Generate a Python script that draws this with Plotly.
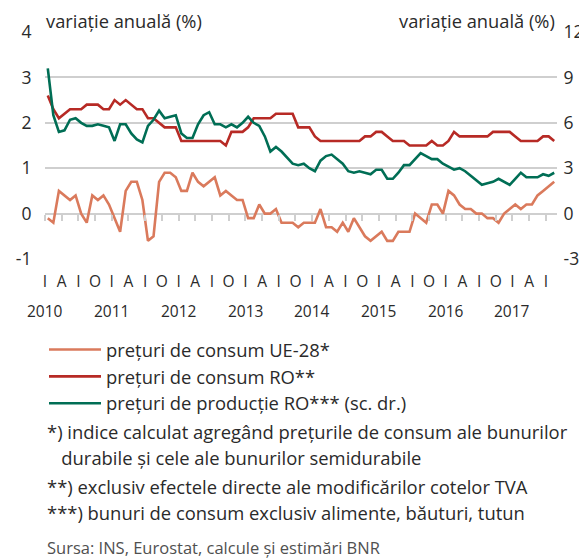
import plotly.graph_objects as go

# ---- data (monthly, Jan 2010 - Aug 2017) ----
months = list(range(92))
ue28 = [-0.1, -0.2, 0.5, 0.4, 0.3, 0.4, 0.0, -0.2, 0.4, 0.3, 0.4, 0.2,
        -0.1, -0.4, 0.5, 0.7, 0.7, 0.3, -0.6, -0.5, 0.7, 0.9, 0.9, 0.8,
        0.5, 0.5, 0.9, 0.7, 0.6, 0.7, 0.8, 0.4, 0.5, 0.4, 0.3, 0.3,
        -0.1, -0.1, 0.2, 0.0, 0.0, 0.1, -0.2, -0.2, -0.2, -0.3, -0.2, -0.2,
        -0.2, 0.1, -0.3, -0.3, -0.4, -0.2, -0.4, -0.1, -0.3, -0.5, -0.6, -0.5,
        -0.4, -0.6, -0.6, -0.4, -0.4, -0.4, 0.0, -0.1, -0.2, 0.2, 0.2, 0.0,
        0.5, 0.4, 0.2, 0.1, 0.1, 0.0, 0.0, -0.1, -0.1, -0.2, 0.0, 0.1,
        0.2, 0.1, 0.2, 0.2, 0.4, 0.5, 0.6, 0.7]
ro_cons = [2.6, 2.3, 2.1, 2.2, 2.3, 2.3, 2.3, 2.4, 2.4, 2.4, 2.3, 2.3,
           2.5, 2.4, 2.5, 2.4, 2.3, 2.3, 2.1, 2.1, 2.0, 1.9, 1.9, 1.9,
           1.6, 1.6, 1.6, 1.6, 1.6, 1.6, 1.6, 1.6, 1.5, 1.8, 1.8, 1.8,
           1.9, 2.1, 2.1, 2.1, 2.1, 2.2, 2.2, 2.2, 2.2, 1.9, 1.9, 1.9,
           1.7, 1.6, 1.6, 1.6, 1.6, 1.6, 1.6, 1.6, 1.6, 1.7, 1.7, 1.8,
           1.8, 1.7, 1.6, 1.6, 1.6, 1.5, 1.5, 1.5, 1.5, 1.6, 1.5, 1.5,
           1.6, 1.8, 1.7, 1.7, 1.7, 1.7, 1.7, 1.7, 1.8, 1.8, 1.8, 1.8,
           1.7, 1.6, 1.6, 1.6, 1.6, 1.7, 1.7, 1.6]
ro_prod = [9.6, 6.5, 5.4, 5.5, 6.2, 6.3, 6.0, 5.8, 5.8, 5.9, 5.8, 5.7,
           4.8, 5.9, 5.9, 5.3, 4.9, 4.7, 5.8, 6.2, 6.8, 6.3, 6.4, 6.5,
           5.3, 5.0, 5.0, 5.9, 6.5, 6.7, 5.9, 5.9, 5.7, 5.9, 5.7, 6.0,
           6.4, 6.0, 5.8, 5.1, 4.1, 4.4, 4.1, 3.7, 3.3, 3.2, 3.3, 3.0,
           2.8, 3.5, 3.8, 3.9, 3.6, 3.3, 2.8, 2.7, 2.8, 2.7, 2.6, 2.9,
           2.9, 2.3, 2.3, 2.7, 3.2, 3.2, 3.6, 4.0, 3.8, 3.6, 3.6, 3.3,
           3.1, 2.9, 3.0, 2.8, 2.5, 2.2, 1.9, 2.0, 2.1, 2.3, 2.1, 1.9,
           2.3, 2.7, 2.4, 2.4, 2.4, 2.6, 2.5, 2.7]

quarter_letters = ["I", "A", "I", "O"]
years = ["2010", "2011", "2012", "2013", "2014", "2015", "2016", "2017"]
left_ticks = [-1, 0, 1, 2, 3, 4]
left_tick_text = ["-1", "0", "1", "2", "3", "4"]
right_ticks = [-3, 0, 3, 6, 9, 12]
right_tick_text = ["-3", "0", "3", "6", "9", "12"]
series_names = ["prețuri de consum UE-28*", "prețuri de consum RO**",
                "prețuri de producție RO*** (sc. dr.)"]
footnotes = ["*) indice calculat agregând prețurile de consum ale bunurilor",
             "   durabile și cele ale bunurilor semidurabile",
             "**) exclusiv efectele directe ale modificărilor cotelor TVA",
             "***) bunuri de consum exclusiv alimente, băuturi, tutun"]
source = "Sursa: INS, Eurostat, calcule și estimări BNR"
axis_title = "variație anuală (%)"

# ---- styling ----
FONT = "Open Sans"
C_UE = "#da7a5c"
C_RO = "#b72a25"
C_PR = "#006e55"
GRID = "#cfcfcf"
TXT = "#2a2a2a"

# the page body has an 8px default margin: work in screen pixels, then subtract it
OFF = 8
W, Hfig = 587 - OFF, 559 - OFF
plot_left, plot_right = 45 - OFF, 557 - OFF
plot_top, plot_bot = 32 - OFF, 259.5 - OFF
H = plot_bot - plot_top

tick_pos = [m - 0.5 for m in months if m % 3 == 0 and m <= 90]
tick_txt = [quarter_letters[(int(p + 0.5) // 3) % 4] for p in tick_pos]

fig = go.Figure()
fig.add_trace(go.Scatter(x=months, y=ue28, name=series_names[0], mode="lines",
                         line=dict(color=C_UE, width=2.6), xaxis="x2", yaxis="y"))
fig.add_trace(go.Scatter(x=months, y=ro_cons, name=series_names[1], mode="lines",
                         line=dict(color=C_RO, width=2.6), xaxis="x", yaxis="y"))
fig.add_trace(go.Scatter(x=months, y=ro_prod, name=series_names[2], mode="lines",
                         line=dict(color=C_PR, width=2.6), xaxis="x", yaxis="y2"))


def below(screen_px):
    return (plot_bot - (screen_px - OFF)) / H


annotations = [
    dict(text=axis_title, x=0, xref="paper", y=1, yref="paper", xanchor="left",
         yanchor="middle", yshift=12, xshift=-1, showarrow=False,
         font=dict(size=18.3, color=TXT, family=FONT)),
    dict(text=axis_title, x=1, xref="paper", y=1, yref="paper", xanchor="right",
         yanchor="middle", yshift=12, showarrow=False,
         font=dict(size=18.3, color=TXT, family=FONT)),
]
for k, yr in enumerate(years):
    annotations.append(dict(text=yr, x=k * 12 - 0.5, xref="x", y=below(312), yref="paper",
                            xanchor="center", yanchor="middle", showarrow=False,
                            font=dict(size=15.5, color=TXT, family=FONT)))
foot_y = [432, 458, 488, 514]
for t, yy in zip(footnotes, foot_y):
    annotations.append(dict(text=t.replace("   ", "&nbsp;&nbsp;&nbsp;"), x=0, xref="paper",
                            y=below(yy), yref="paper", xanchor="left", yanchor="middle",
                            showarrow=False, font=dict(size=18.4, color=TXT, family=FONT)))
annotations.append(dict(text=source, x=0, xref="paper", y=below(549), yref="paper",
                        xanchor="left", yanchor="middle", showarrow=False,
                        font=dict(size=16.5, color="#505050", family=FONT)))

fig.update_layout(
    width=W, height=Hfig,
    margin=dict(l=plot_left, r=W - plot_right, t=plot_top, b=Hfig - plot_bot, autoexpand=False),
    paper_bgcolor="white", plot_bgcolor="white",
    font=dict(family=FONT, color=TXT),
    showlegend=True,
    legend=dict(xref="container", yref="container", x=(44 - OFF) / W, y=1 - (331 - OFF) / Hfig,
                xanchor="left", yanchor="top", itemwidth=52,
                font=dict(size=18.4, color=TXT, family=FONT),
                bgcolor="rgba(0,0,0,0)", tracegroupgap=0),
    xaxis=dict(range=[-0.5, 91.5], tickvals=tick_pos, ticktext=tick_txt,
               showgrid=False, zeroline=False, showline=False, ticks="",
               ticklabelstandoff=11, tickfont=dict(size=15.5, color=TXT, family=FONT)),
    xaxis2=dict(range=[-0.5, 91.5], overlaying="x", anchor="free", position=0.2,
                tickvals=tick_pos, showticklabels=False, showgrid=False, zeroline=False,
                showline=False, ticks="outside", ticklen=6, tickwidth=1.5, tickcolor=GRID),
    yaxis=dict(range=[-1, 4], tickvals=left_ticks, ticktext=left_tick_text,
               showgrid=True, gridcolor=GRID, gridwidth=1.5,
               zeroline=False, showline=False, ticks="outside", ticklen=9,
               tickcolor="rgba(0,0,0,0)", tickfont=dict(size=17.5, color=TXT, family=FONT)),
    yaxis2=dict(range=[-3, 12], tickvals=right_ticks, ticktext=right_tick_text,
                overlaying="y", side="right", showgrid=False,
                zeroline=False, showline=False, ticks="outside", ticklen=2,
                tickcolor="rgba(0,0,0,0)", tickfont=dict(size=17.5, color=TXT, family=FONT)),
    annotations=annotations,
)

fig.write_html("out.html")
